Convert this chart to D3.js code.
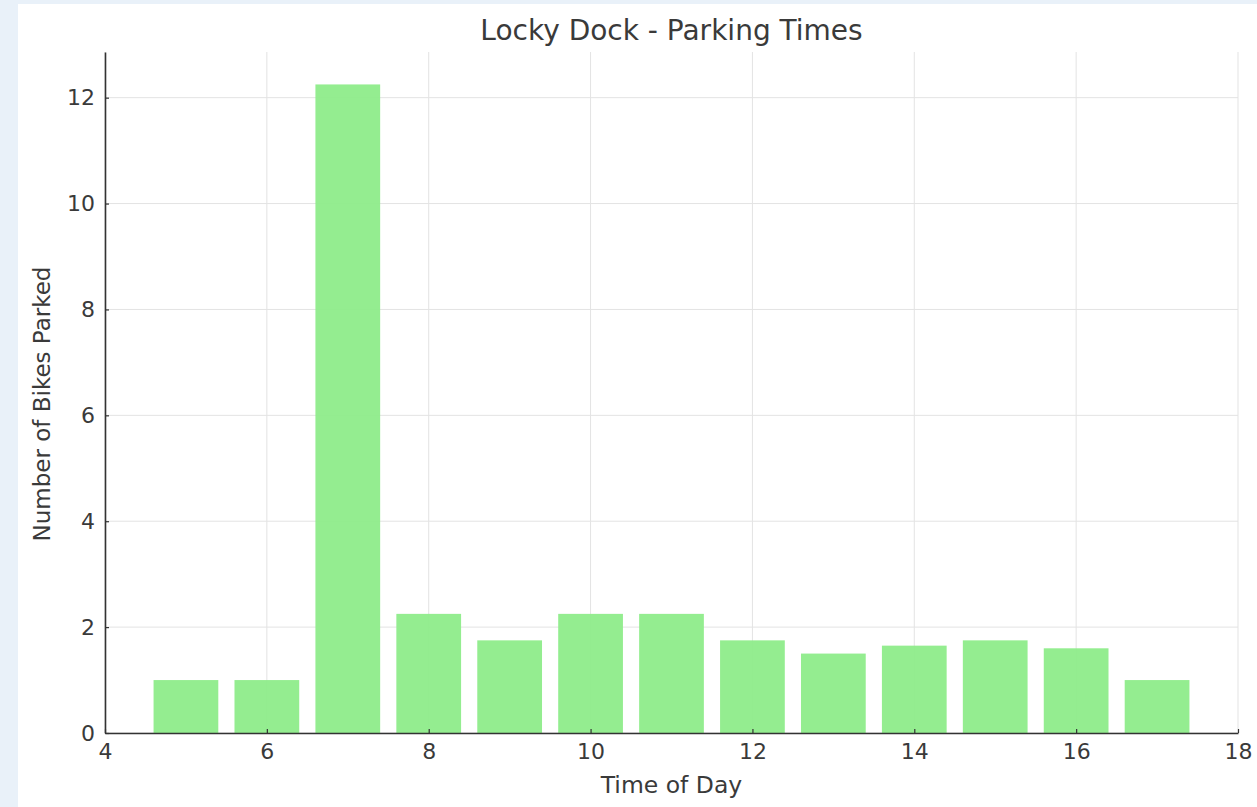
<!DOCTYPE html>
<html>
<head>
<meta charset="utf-8">
<script src="https://cdn.jsdelivr.net/npm/d3@7"></script>
<style>
  html, body { margin: 0; padding: 0; background: #e9f1f9; }
  #chart { position: absolute; left: 18px; top: 4px; }
  text { font-family: "DejaVu Sans", sans-serif; fill: #3a3a3a; }
</style>
</head>
<body>
<div id="chart"></div>
<script>
  "use strict";

  var hours = [5, 6, 7, 8, 9, 10, 11, 12, 13, 14, 15, 16, 17];
  var bikes = [1.0, 1.0, 12.25, 2.25, 1.75, 2.25, 2.25, 1.75, 1.5, 1.65, 1.75, 1.6, 1.0];
  var xTicks = [4, 6, 8, 10, 12, 14, 16, 18];
  var yTicks = [0, 2, 4, 6, 8, 10, 12];

  var W = 1239, H = 803;
  var margin = {top: 48, right: 19, bottom: 74, left: 87},
      width = W - margin.left - margin.right,
      height = H - margin.top - margin.bottom;

  var svg = d3.select("#chart")
              .append("svg")
              .attr("width", W)
              .attr("height", H)
              .style("background", "#fff");

  var g = svg.append("g")
             .attr("transform", "translate(" + margin.left + "," + margin.top + ")");

  var x = d3.scaleLinear().domain([4, 18]).range([0, width]);
  var y = d3.scaleLinear().domain([0, d3.max(bikes) * 1.05]).range([height, 0]);

  // grid
  g.append("g").selectAll("line")
    .data(xTicks)
    .enter().append("line")
    .attr("x1", function(d) { return x(d); })
    .attr("x2", function(d) { return x(d); })
    .attr("y1", 0)
    .attr("y2", height)
    .attr("stroke", "#e3e3e3")
    .attr("stroke-width", 1);

  g.append("g").selectAll("line")
    .data(yTicks)
    .enter().append("line")
    .attr("x1", 0)
    .attr("x2", width)
    .attr("y1", function(d) { return y(d); })
    .attr("y2", function(d) { return y(d); })
    .attr("stroke", "#e3e3e3")
    .attr("stroke-width", 1);

  // bars
  g.append("g").selectAll("rect")
    .data(hours)
    .enter().append("rect")
    .attr("x", function(d) { return x(d - 0.4); })
    .attr("width", function(d) { return x(d + 0.4) - x(d - 0.4); })
    .attr("y", function(d, i) { return y(bikes[i]); })
    .attr("height", function(d, i) { return height - y(bikes[i]); })
    .attr("fill", "#8eec8a")
    .attr("fill-opacity", 0.95);

  // axes
  var xAxis = d3.axisBottom(x).tickValues(xTicks).tickSizeInner(-4).tickSizeOuter(0).tickPadding(10);
  var yAxis = d3.axisLeft(y).tickValues(yTicks).tickSizeInner(-4).tickSizeOuter(0).tickPadding(10);

  var gX = g.append("g").attr("transform", "translate(0," + height + ")").call(xAxis);
  var gY = g.append("g").call(yAxis);

  [gX, gY].forEach(function(a) {
    a.select(".domain").attr("stroke", "#333").attr("stroke-width", 1.6);
    a.selectAll(".tick line").attr("stroke", "#333").attr("stroke-width", 1.2);
    a.selectAll(".tick text").style("font-size", "22px").attr("fill", "#3a3a3a");
  });

  // title + labels
  svg.append("text")
     .attr("x", margin.left + width / 2)
     .attr("y", 36)
     .attr("text-anchor", "middle")
     .style("font-size", "28px")
     .text("Locky Dock - Parking Times");

  svg.append("text")
     .attr("x", margin.left + width / 2)
     .attr("y", H - 14)
     .attr("text-anchor", "middle")
     .style("font-size", "23.5px")
     .text("Time of Day");

  svg.append("text")
     .attr("transform", "translate(32," + 400 + ") rotate(-90)")
     .attr("text-anchor", "middle")
     .style("font-size", "23px")
     .text("Number of Bikes Parked");
</script>
</body>
</html>
